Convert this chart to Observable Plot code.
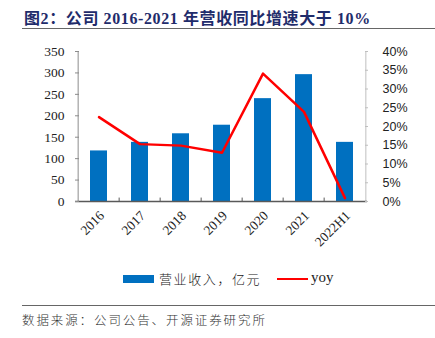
<!DOCTYPE html>
<html>
<head>
<meta charset="utf-8">
<script src="https://cdn.jsdelivr.net/npm/d3@7"></script>
<script src="https://cdn.jsdelivr.net/npm/@observablehq/plot@0.6"></script>
<style>
  html, body { margin: 0; padding: 0; background: #fff; }
  #wrap { position: relative; width: 435px; height: 338px; overflow: hidden; background: #fff; }
  #title { position: absolute; left: 24px; top: 5px; font-family: "Liberation Serif", "Noto Sans CJK SC", serif; font-weight: bold; font-size: 16px; color: #1f2c6b; white-space: nowrap; letter-spacing: 0.6px; }
  #tline { position: absolute; left: 22px; top: 28px; width: 413px; height: 0; border-top: 1.5px solid #666; }
  #chart { position: absolute; left: 0; top: 35px; }
  #legend { position: absolute; left: 0; top: 268px; width: 435px; height: 20px; font-size: 13px; color: #222; }
  .sw { position: absolute; }
  #footline { position: absolute; left: 22px; top: 305px; width: 413px; height: 0; border-top: 1.5px solid #666; }
  #source { position: absolute; left: 22px; top: 310px; font-family: "Noto Sans CJK SC", sans-serif; font-size: 12.5px; letter-spacing: 1.9px; color: #333; white-space: nowrap; font-weight: 300; }
</style>
</head>
<body>
<div id="wrap">
  <div id="title">图2：公司 2016-2021 年营收同比增速大于 10%</div>
  <div id="tline"></div>
  <div id="chart"></div>
  <div id="legend">
    <div class="sw" style="left:123px; top:7px; width:31px; height:8px; background:#0070c0;"></div>
    <div class="sw" style="left:159px; top:1px; font-family:'Noto Sans CJK SC', sans-serif; font-weight:300; letter-spacing:1.6px; white-space:nowrap;">营业收入，亿元</div>
    <div class="sw" style="left:277px; top:10px; width:31px; height:0; border-top:2.5px solid #ff0000;"></div>
    <div class="sw" style="left:311px; top:1px; font-family:'Liberation Serif', serif; font-size:15px;">yoy</div>
  </div>
  <div id="footline"></div>
  <div id="source">数据来源：公司公告、开源证券研究所</div>
</div>
<script>
const categories = ["2016", "2017", "2018", "2019", "2020", "2021", "2022H1"];
const revenue = [118, 138, 158, 178, 240, 296, 138];
const yoyPct = [22.5, 15.3, 14.9, 13.0, 34.1, 23.9, 0.9];
const leftTicks = [0, 50, 100, 150, 200, 250, 300, 350];
const rightTicks = [0, 5, 10, 15, 20, 25, 30, 35, 40];

const data = categories.map((c, i) => ({cat: c, rev: revenue[i], yoy: yoyPct[i]}));
const leftMax = 350, rightMax = 40;
const k = leftMax / rightMax;

const W = 435, H = 230, mL = 75, mR = 68, mT = 16, mB = 64;
const step = (W - mL - mR) / categories.length;

const chart = Plot.plot({
  width: W,
  height: H,
  marginLeft: mL,
  marginRight: mR,
  marginTop: mT,
  marginBottom: mB,
  style: {background: "#fff", overflow: "visible"},
  x: {domain: categories, paddingInner: 0.59, paddingOuter: 0.295, axis: null},
  y: {domain: [0, leftMax], axis: null},
  marks: [
    Plot.barY(data, {x: "cat", y: "rev", fill: "#0070c0"}),
    Plot.ruleX([categories[0]], {dx: -step / 2, y1: 0, y2: leftMax, stroke: "#8c8c8c", strokeWidth: 1}),
    Plot.ruleX([categories[categories.length - 1]], {dx: step / 2, y1: 0, y2: leftMax, stroke: "#bfbfbf", strokeWidth: 1}),
    Plot.ruleX(categories.slice(1), {dx: -step / 2, y1: 0, y2: 8, stroke: "#595959", strokeWidth: 1}),
    Plot.ruleY([0], {stroke: "#595959", strokeWidth: 1.5}),
    Plot.lineY(data, {x: "cat", y: d => d.yoy * k, stroke: "#ff0000", strokeWidth: 2.5}),
    Plot.axisY({ticks: leftTicks, anchor: "left", tickSize: -4, tickPadding: 15, stroke: "#8c8c8c", fill: "#222", fontFamily: "Liberation Serif, serif", fontSize: 13.5, label: null, tickFormat: d => String(d)}),
    Plot.axisY({ticks: rightTicks.map(p => p * k), anchor: "right", tickSize: -3, tickPadding: 18, stroke: "#bfbfbf", fill: "#222", fontFamily: "Liberation Sans, sans-serif", fontSize: 12.5, label: null, tickFormat: v => Math.round(v / k) + "%"}),
    Plot.axisX({tickSize: 0, tickPadding: 12, tickRotate: -45, fill: "#222", fontFamily: "Liberation Serif, serif", fontSize: 13.5, label: null, dx: 3})
  ]
});
document.getElementById("chart").appendChild(chart);
</script>
</body>
</html>
